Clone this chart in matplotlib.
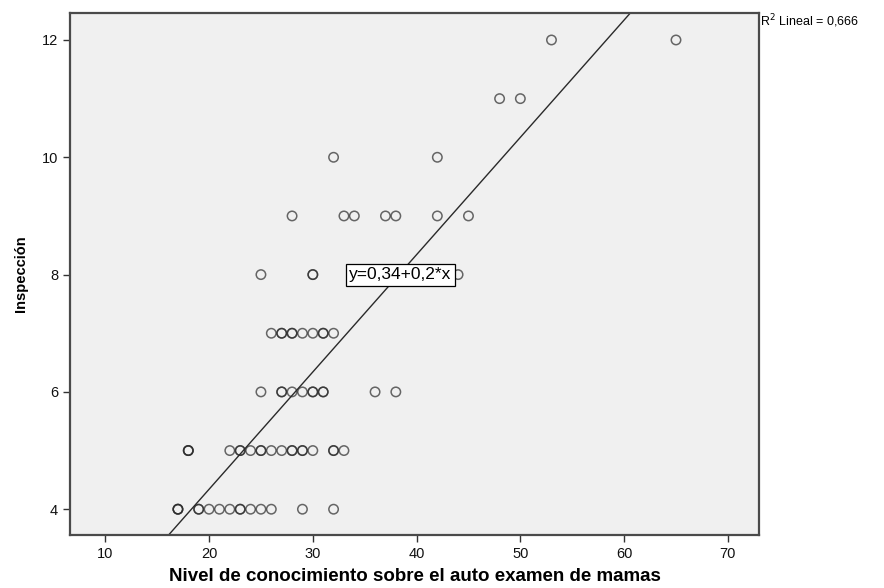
import matplotlib.pyplot as plt
import numpy as np

# nivel de conocimiento (x) e inspección (y); repetidos = casos coincidentes
conocimiento = [17, 17, 17, 19, 19, 20, 21, 22, 23, 23, 24, 25, 26, 29, 32,
                18, 18, 18, 22, 23, 23, 24, 25, 25, 26, 27, 28, 28, 29, 29, 30, 32, 32, 33,
                25, 27, 27, 28, 29, 30, 30, 31, 31, 36, 38,
                26, 27, 27, 28, 28, 29, 30, 31, 31, 32,
                25, 30, 30, 44,
                28, 33, 34, 37, 38, 42, 45,
                32, 42,
                48, 50,
                53, 65]
inspeccion = [4] * 15 + [5] * 19 + [6] * 11 + [7] * 10 + [8] * 4 + [9] * 7 + [10] * 2 + [11] * 2 + [12] * 2

intercepto = 0.34
pendiente = 0.2
r2 = 0.666

x_ticks = [10, 20, 30, 40, 50, 60, 70]
y_ticks = [4, 6, 8, 10, 12]

plt.rcParams['font.family'] = ['Liberation Sans', 'DejaVu Sans']

fig = plt.figure(figsize=(8.84, 5.88), dpi=100)
ax = fig.add_axes([0.0792, 0.0901, 0.7794, 0.8878])
ax.set_facecolor('#f0f0f0')

ax.scatter(conocimiento, inspeccion, s=46, facecolors='none',
           edgecolors='#2a2a2a', linewidths=1.1, alpha=0.7, zorder=3)

xl = np.array([6.6, 73.0])
ax.plot(xl, intercepto + pendiente * xl, color='#2a2a2a', lw=1.0, zorder=2)

ax.text(33.5, 8.0, f'y={intercepto:.2f}+{pendiente:.1f}*x'.replace('.', ','),
        fontsize=12.5, va='center', ha='left', zorder=4,
        bbox=dict(boxstyle='square,pad=0.2', fc='white', ec='black', lw=0.9))

ax.set_xlim(6.6, 73.0)
ax.set_ylim(3.56, 12.46)
ax.set_xticks(x_ticks)
ax.set_yticks(y_ticks)
ax.tick_params(direction='out', length=5, width=1, color='#333333',
               labelsize=10.5, colors='#111111')
for s in ax.spines.values():
    s.set_color('#4a4a4a')
    s.set_linewidth(1.6)

ax.set_xlabel('Nivel de conocimiento sobre el auto examen de mamas',
              fontsize=13.5, fontweight='bold', labelpad=5)
ax.set_ylabel('Inspección', fontsize=10.5, fontweight='bold', labelpad=10)

fig.text(760 / 884, 1 - 21 / 588, f'R$^2$ Lineal = {r2:.3f}'.replace('.', ','),
         fontsize=9, ha='left', va='center')

fig.savefig('out.png', dpi=100)
